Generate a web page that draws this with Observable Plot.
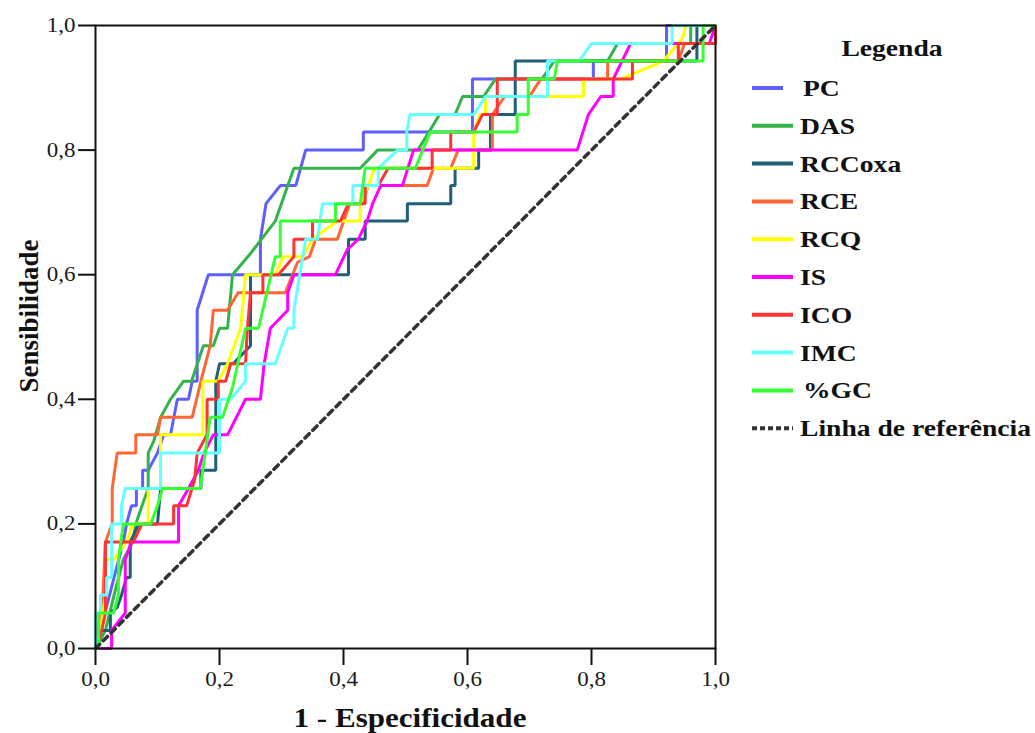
<!DOCTYPE html>
<html><head><meta charset="utf-8">
<script src="https://cdn.jsdelivr.net/npm/d3@7"></script>
<script src="https://cdn.jsdelivr.net/npm/@observablehq/plot@0.6"></script>
<style>
body{margin:0;background:#fff}
#wrap{position:relative;width:1035px;height:733px;overflow:hidden}
#wrap svg{position:absolute;left:0;top:0}
</style>
</head><body><div id="wrap"></div>
<script>
const series = ["PC","DAS","RCCoxa","RCE","RCQ","IS","ICO","IMC","%GC"];
const colors = ["#5f5fff","#33b34a","#1f5f78","#ff6633","#ffff00","#ff00ff","#ff3333","#66ffff","#33ff33"];
const refLabel = "Linha de referência";
const tickValues = [0,0.2,0.4,0.6,0.8,1];
const tickLabels = ["0,0","0,2","0,4","0,6","0,8","1,0"];
const xTitle = "1 - Especificidade";
const yTitle = "Sensibilidade";
const legendTitle = "Legenda";

const PC = [[0,0],[0,0.03],[0.016,0.06],[0.03,0.114],[0.045,0.171],[0.05,0.2],[0.058,0.229],[0.066,0.229],[0.066,0.257],[0.076,0.257],[0.076,0.286],[0.085,0.286],[0.1,0.314],[0.11,0.343],[0.121,0.343],[0.132,0.4],[0.15,0.4],[0.156,0.429],[0.164,0.429],[0.164,0.543],[0.182,0.6],[0.266,0.6],[0.266,0.657],[0.275,0.714],[0.298,0.743],[0.323,0.743],[0.339,0.8],[0.432,0.8],[0.432,0.829],[0.608,0.829],[0.608,0.914],[0.803,0.914],[0.803,0.943],[0.921,0.943],[0.921,1],[1,1]];
const DAS = [[0,0],[0.016,0.029],[0.03,0.086],[0.045,0.143],[0.06,0.171],[0.065,0.2],[0.075,0.229],[0.085,0.257],[0.085,0.314],[0.094,0.333],[0.105,0.371],[0.121,0.4],[0.142,0.429],[0.155,0.429],[0.174,0.486],[0.19,0.486],[0.2,0.514],[0.213,0.514],[0.221,0.6],[0.25,0.634],[0.29,0.686],[0.32,0.771],[0.427,0.771],[0.455,0.8],[0.52,0.8],[0.555,0.857],[0.58,0.857],[0.592,0.886],[0.626,0.886],[0.645,0.914],[0.72,0.914],[0.74,0.943],[0.826,0.943],[0.842,0.971],[0.96,0.971],[0.96,1],[1,1]];
const RCCoxa = [[0,0],[0.003,0.029],[0.024,0.029],[0.024,0.057],[0.035,0.066],[0.042,0.086],[0.05,0.114],[0.056,0.114],[0.056,0.171],[0.07,0.2],[0.1,0.2],[0.105,0.257],[0.17,0.257],[0.17,0.286],[0.194,0.286],[0.194,0.429],[0.2,0.457],[0.222,0.457],[0.25,0.486],[0.25,0.6],[0.408,0.6],[0.408,0.657],[0.435,0.657],[0.435,0.686],[0.503,0.686],[0.503,0.714],[0.573,0.714],[0.573,0.743],[0.58,0.743],[0.58,0.771],[0.618,0.771],[0.618,0.8],[0.637,0.8],[0.637,0.857],[0.677,0.857],[0.677,0.943],[0.97,0.943],[0.97,1],[1,1]];
const RCE = [[0,0],[0.008,0.029],[0.012,0.086],[0.016,0.171],[0.027,0.2],[0.027,0.257],[0.035,0.314],[0.065,0.314],[0.065,0.343],[0.1,0.343],[0.105,0.371],[0.156,0.371],[0.17,0.429],[0.185,0.486],[0.19,0.543],[0.213,0.543],[0.23,0.571],[0.306,0.571],[0.326,0.62],[0.345,0.629],[0.355,0.657],[0.39,0.657],[0.41,0.714],[0.43,0.714],[0.44,0.743],[0.535,0.743],[0.545,0.771],[0.573,0.771],[0.585,0.8],[0.64,0.8],[0.64,0.857],[0.66,0.886],[0.7,0.886],[0.718,0.914],[0.826,0.914],[0.826,0.943],[0.94,0.943],[0.95,0.971],[1,0.971],[1,1]];
const RCQ = [[0,0],[0.008,0.029],[0.016,0.086],[0.016,0.143],[0.03,0.143],[0.05,0.171],[0.06,0.2],[0.085,0.2],[0.085,0.257],[0.105,0.257],[0.105,0.343],[0.173,0.343],[0.173,0.429],[0.198,0.429],[0.213,0.457],[0.234,0.514],[0.242,0.6],[0.29,0.6],[0.303,0.629],[0.334,0.629],[0.35,0.657],[0.39,0.686],[0.427,0.686],[0.427,0.714],[0.44,0.743],[0.45,0.771],[0.61,0.771],[0.61,0.829],[0.62,0.857],[0.629,0.857],[0.629,0.886],[0.787,0.886],[0.787,0.914],[0.847,0.914],[0.916,0.943],[0.947,0.98],[0.952,1],[1,1]];
const IS = [[0,0],[0.026,0],[0.026,0.029],[0.048,0.057],[0.048,0.143],[0.058,0.171],[0.134,0.171],[0.134,0.229],[0.15,0.257],[0.166,0.286],[0.175,0.314],[0.19,0.343],[0.213,0.343],[0.242,0.4],[0.266,0.4],[0.272,0.457],[0.282,0.514],[0.31,0.543],[0.31,0.571],[0.32,0.6],[0.387,0.6],[0.406,0.64],[0.424,0.657],[0.438,0.686],[0.447,0.714],[0.46,0.743],[0.495,0.743],[0.513,0.8],[0.777,0.8],[0.795,0.857],[0.815,0.886],[0.835,0.886],[0.835,0.914],[0.863,0.971],[0.99,0.971],[1,1]];
const ICO = [[0,0],[0.01,0.029],[0.016,0.057],[0.016,0.171],[0.061,0.171],[0.075,0.2],[0.126,0.2],[0.126,0.229],[0.147,0.229],[0.16,0.271],[0.164,0.314],[0.18,0.343],[0.18,0.4],[0.198,0.4],[0.198,0.429],[0.21,0.429],[0.218,0.457],[0.242,0.457],[0.245,0.514],[0.25,0.571],[0.27,0.571],[0.27,0.6],[0.295,0.6],[0.32,0.629],[0.32,0.657],[0.35,0.657],[0.35,0.686],[0.395,0.686],[0.408,0.714],[0.435,0.714],[0.435,0.743],[0.456,0.743],[0.472,0.771],[0.543,0.771],[0.543,0.8],[0.573,0.8],[0.573,0.829],[0.61,0.829],[0.624,0.857],[0.648,0.857],[0.648,0.914],[0.866,0.914],[0.866,0.943],[0.94,0.943],[0.94,0.971],[1,0.971],[1,1]];
const IMC = [[0,0],[0,0.057],[0.008,0.057],[0.008,0.086],[0.018,0.086],[0.018,0.114],[0.026,0.114],[0.026,0.2],[0.042,0.2],[0.042,0.229],[0.048,0.257],[0.105,0.257],[0.105,0.314],[0.2,0.314],[0.2,0.4],[0.218,0.4],[0.242,0.429],[0.242,0.457],[0.29,0.457],[0.31,0.514],[0.32,0.514],[0.32,0.543],[0.339,0.657],[0.358,0.657],[0.366,0.714],[0.415,0.714],[0.415,0.743],[0.456,0.743],[0.456,0.771],[0.487,0.8],[0.502,0.8],[0.502,0.829],[0.507,0.857],[0.61,0.857],[0.629,0.886],[0.729,0.886],[0.729,0.943],[0.78,0.943],[0.8,0.971],[0.93,0.971],[0.93,1],[1,1]];
const GC = [[0,0],[0.005,0],[0.005,0.057],[0.029,0.057],[0.037,0.086],[0.037,0.143],[0.045,0.2],[0.089,0.2],[0.1,0.229],[0.108,0.257],[0.169,0.257],[0.185,0.371],[0.205,0.371],[0.221,0.419],[0.242,0.514],[0.263,0.514],[0.29,0.629],[0.298,0.629],[0.298,0.686],[0.387,0.686],[0.387,0.714],[0.427,0.714],[0.435,0.771],[0.516,0.771],[0.54,0.829],[0.68,0.829],[0.68,0.857],[0.698,0.857],[0.698,0.914],[0.74,0.914],[0.745,0.943],[0.98,0.943],[0.98,1],[1,1]];
const REF = [[0,0],[1,1]];

const curves = [PC,DAS,RCCoxa,RCE,RCQ,IS,ICO,IMC,GC];
const rows = [];
series.forEach((s,i)=>curves[i].forEach(([x,y])=>rows.push({s,x,y})));
const refRows = REF.map(([x,y])=>({x,y}));

const FONT = "'Liberation Serif','Times New Roman',serif";
const STRETCH = 1.15;
const LEG_STRETCH = 1.2;

const plot = Plot.plot({
  width: 1035, height: 733,
  marginLeft: 95, marginRight: 320, marginTop: 25, marginBottom: 85,
  x: {domain:[0,1]},
  y: {domain:[0,1]},
  color: {domain: series, range: colors},
  style: {fontFamily: FONT, fontSize: "20px", color: "#1a1a1a", background: "transparent", overflow: "visible"},
  marks: [
    Plot.axisX({ticks: tickValues, tickFormat: d => tickLabels[tickValues.indexOf(d)], tickSize: 17, tickPadding: 6, label: null, strokeWidth: 2, stroke:"#111"}),
    Plot.axisY({ticks: tickValues, tickFormat: d => tickLabels[tickValues.indexOf(d)], tickSize: 17, tickPadding: 3, label: null, strokeWidth: 2, stroke:"#111"}),
    Plot.line(rows, {x:"x", y:"y", z:"s", stroke:"s", strokeWidth:3, strokeLinejoin:"miter", strokeLinecap:"butt"}),
    Plot.line(refRows, {x:"x", y:"y", stroke:"#333", strokeWidth:3.5, strokeDasharray:"6,5"}),
    Plot.frame({stroke:"#111", strokeWidth:2})
  ]
});
const wrap = document.getElementById("wrap");
wrap.appendChild(plot);

function stretch(sel, k){
  sel.each(function(){
    const len = this.getComputedTextLength();
    this.setAttribute("textLength", len*k);
    this.setAttribute("lengthAdjust", "spacingAndGlyphs");
  });
}
stretch(d3.select(plot).selectAll('g[aria-label="x-axis tick label"] text, g[aria-label="y-axis tick label"] text'), STRETCH);

// overlay: axis titles and legend
const ov = d3.select(wrap).append("svg").attr("width",1035).attr("height",733)
  .style("font-family", FONT).style("pointer-events","none");

const xt = ov.append("text").attr("x",410).attr("y",727).attr("text-anchor","middle")
  .attr("font-weight","bold").attr("font-size",27).attr("fill","#111").text(xTitle);
stretch(xt, STRETCH);
ov.append("text").attr("transform","translate(38,316) rotate(-90)").attr("text-anchor","middle")
  .attr("font-weight","bold").attr("font-size",27).attr("fill","#111").text(yTitle);

const lt = ov.append("text").attr("x",892).attr("y",56).attr("text-anchor","middle")
  .attr("font-weight","bold").attr("font-size",23).attr("fill","#111").text(legendTitle);
stretch(lt, LEG_STRETCH);

const legendItems = series.map((s,i)=>({label:s, color:colors[i], dash:null}))
  .concat([{label: refLabel, color:"#333", dash:"5,3"}]);
legendItems.forEach((it,i)=>{
  const cy = 88 + i*37.8;
  const short = (it.label === "PC");
  ov.append("line").attr("x1",752).attr("x2", short ? 783 : 793).attr("y1",cy).attr("y2",cy)
    .attr("stroke",it.color).attr("stroke-width",4).attr("stroke-dasharray", it.dash);
  const indent = (it.label === "PC" || it.label === "%GC") ? 803 : 800;
  const t = ov.append("text").attr("x",indent).attr("y",cy+8).attr("font-weight","bold")
    .attr("font-size",23).attr("fill","#111").text(it.label);
  stretch(t, LEG_STRETCH);
});
</script>
</body></html>
